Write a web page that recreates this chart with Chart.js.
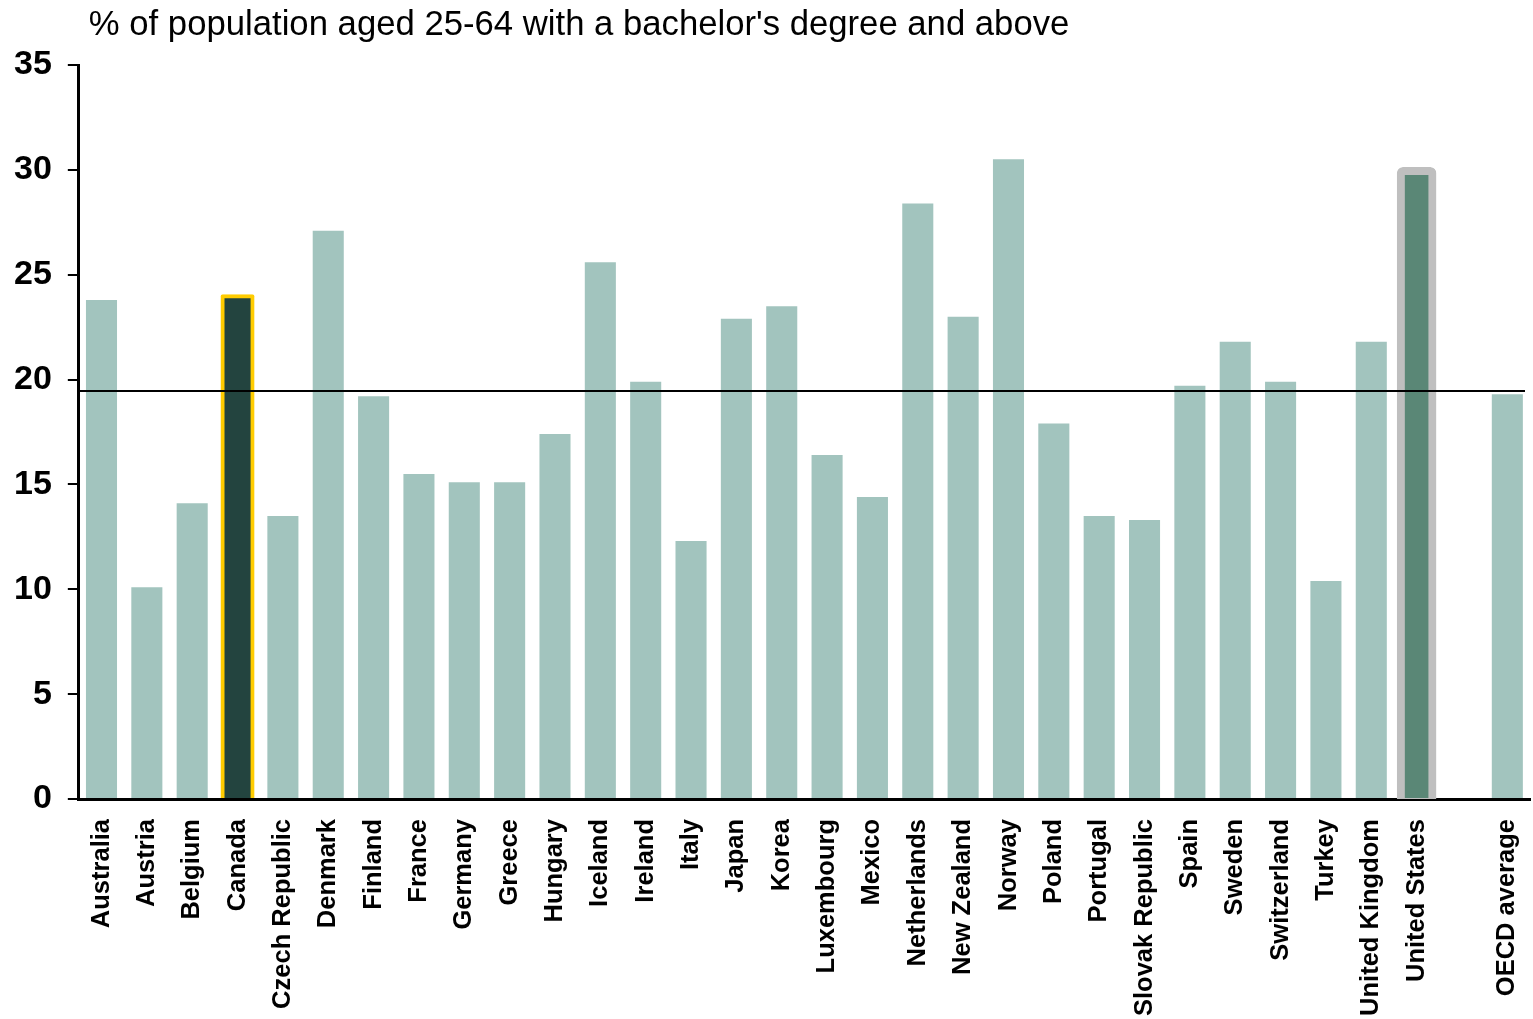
<!DOCTYPE html>
<html>
<head>
<meta charset="utf-8">
<script src="https://cdn.jsdelivr.net/npm/chart.js@4.4.1/dist/chart.umd.min.js"></script>
<style>
  html, body { margin: 0; padding: 0; background: #fff; }
  #wrap { width: 1533px; height: 1019px; }
</style>
</head>
<body>
<div id="wrap"><canvas id="bar-chart"></canvas></div>
<script>
var titleText = "% of population aged 25-64 with a bachelor's degree and above";

// '' is the empty slot before the OECD average
var countries = ["Australia", "Austria", "Belgium", "Canada", "Czech Republic", "Denmark",
  "Finland", "France", "Germany", "Greece", "Hungary", "Iceland", "Ireland", "Italy",
  "Japan", "Korea", "Luxembourg", "Mexico", "Netherlands", "New Zealand", "Norway",
  "Poland", "Portugal", "Slovak Republic", "Spain", "Sweden", "Switzerland", "Turkey",
  "United Kingdom", "United States", "", "OECD average"];

var shares = [23.8, 10.1, 14.1, 24.0, 13.5, 27.1,
  19.2, 15.5, 15.1, 15.1, 17.4, 25.6, 19.9, 12.3,
  22.9, 23.5, 16.4, 14.4, 28.4, 23.0, 30.5,
  17.9, 13.5, 13.3, 19.7, 21.8, 19.9, 10.4,
  21.8, 29.75, null, 19.3];

var yTicks = [0, 5, 10, 15, 20, 25, 30, 35];
var referenceLine = 19.45;

var canadaLabel = "Canada";
var usLabel = "United States";

var FONT = "'Liberation Sans', Arial, sans-serif";

var mainData = shares.map(function (v, i) { return countries[i] === usLabel ? null : v; });
var usData = shares.map(function (v, i) { return countries[i] === usLabel ? v : null; });

var refLinePlugin = {
  id: 'refLine',
  afterDatasetsDraw: function (chart) {
    var ctx = chart.ctx, area = chart.chartArea;
    var y = chart.scales.y.getPixelForValue(referenceLine);
    ctx.save();
    ctx.strokeStyle = '#000';
    ctx.lineWidth = 2;
    ctx.beginPath();
    ctx.moveTo(area.left, y);
    ctx.lineTo(area.right - 5, y);
    ctx.stroke();
    ctx.restore();
  }
};

var titlePlugin = {
  id: 'topTitle',
  afterDraw: function (chart) {
    var ctx = chart.ctx;
    ctx.save();
    ctx.fillStyle = '#000';
    ctx.font = "34.7px " + FONT;
    ctx.textBaseline = 'alphabetic';
    ctx.textAlign = 'left';
    ctx.fillText(titleText, chart.chartArea.left + 10, 35);
    ctx.restore();
  }
};

function generateBarChart() {
  var ctx = document.getElementById("bar-chart");
  new Chart(ctx, {
    type: 'bar',
    data: {
      labels: countries,
      datasets: [{
        label: 'United States',
        data: usData,
        order: 0,
        grouped: false,
        barPercentage: 0.52,
        categoryPercentage: 1,
        backgroundColor: '#5a8776',
        borderColor: '#bfbfbf',
        borderWidth: 8,
        inflateAmount: 8,
        borderRadius: 6,
        borderSkipped: false,
        clip: { left: 20, top: 20, right: 20, bottom: 0 }
      }, {
        label: 'Share',
        data: mainData,
        order: 1,
        grouped: false,
        barPercentage: 0.685,
        categoryPercentage: 1,
        backgroundColor: function (c) {
          return countries[c.dataIndex] === canadaLabel ? '#23443f' : '#a2c4be';
        },
        borderColor: function (c) {
          return countries[c.dataIndex] === canadaLabel ? '#ffcc00' : 'rgba(0,0,0,0)';
        },
        borderWidth: function (c) {
          return countries[c.dataIndex] === canadaLabel ? 4 : 0;
        },
        inflateAmount: function (c) {
          return countries[c.dataIndex] === canadaLabel ? 1.5 : 0;
        },
        borderRadius: function (c) {
          return countries[c.dataIndex] === canadaLabel ? 2 : 0;
        },
        borderSkipped: 'bottom'
      }]
    },
    options: {
      responsive: true,
      maintainAspectRatio: false,
      animation: false,
      layout: { padding: { top: 65, left: -2, right: 3, bottom: -17 } },
      plugins: {
        legend: { display: false },
        tooltip: { enabled: false }
      },
      scales: {
        x: {
          z: 1,
          afterFit: function (axis) {
            axis.paddingLeft = 0;
            axis.paddingRight = 0;
          },
          grid: { display: false, drawTicks: false },
          border: { display: true, color: '#000', width: 3 },
          ticks: {
            color: '#000',
            font: { family: FONT, size: 25.5, weight: 'bold' },
            minRotation: 90,
            maxRotation: 90,
            autoSkip: false,
            padding: 20
          }
        },
        y: {
          z: 1,
          min: yTicks[0],
          max: yTicks[yTicks.length - 1],
          afterBuildTicks: function (axis) {
            axis.ticks = yTicks.map(function (v) { return { value: v }; });
          },
          grid: { drawOnChartArea: false, color: '#000', lineWidth: 2, tickLength: 11 },
          border: { display: true, color: '#000', width: 3 },
          ticks: {
            color: '#000',
            font: { family: FONT, size: 34, weight: 'bold' },
            padding: 16
          }
        }
      }
    },
    plugins: [refLinePlugin, titlePlugin]
  });
}

generateBarChart();
</script>
</body>
</html>
